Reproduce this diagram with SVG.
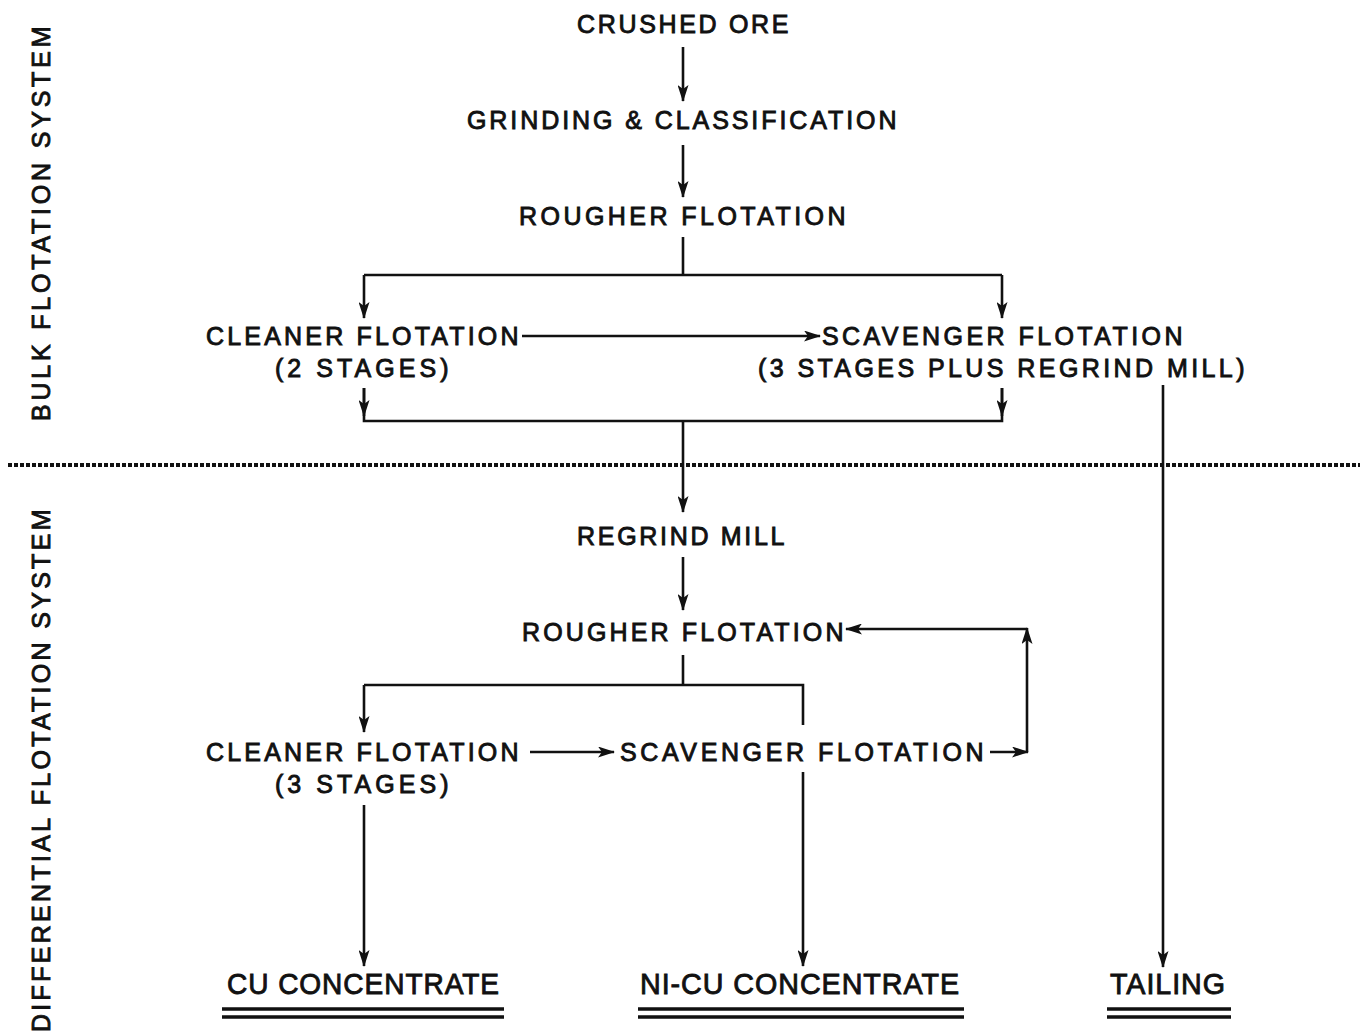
<svg xmlns="http://www.w3.org/2000/svg" width="1366" height="1036" viewBox="0 0 1366 1036">
<style>
text{font-family:"Liberation Sans",Arial,sans-serif;font-size:25px;fill:#111;stroke:#111;stroke-width:0.9;letter-spacing:1.5px}
.c{text-anchor:middle}
.big{font-size:30px;letter-spacing:1px}
.ln{fill:none;stroke:#111;stroke-width:2.6}
.ul{fill:none;stroke:#111;stroke-width:3.4}
</style>
<defs>
<marker id="ah" viewBox="0 0 17 11" refX="16" refY="5.5" markerWidth="17" markerHeight="11" markerUnits="userSpaceOnUse" orient="auto">
<path d="M0,0 L17,5.5 L0,11 L4,5.5 z" fill="#111"/>
</marker>
</defs>
<rect width="1366" height="1036" fill="#fff"/>

<g id="label-bulk"><text class="c" transform="translate(50,223) rotate(-90)" textLength="396" lengthAdjust="spacing">BULK FLOTATION SYSTEM</text></g>
<g id="label-diff"><text class="c" transform="translate(50,770) rotate(-90)" textLength="524" lengthAdjust="spacing">DIFFERENTIAL FLOTATION SYSTEM</text></g>

<g id="divider"><line x1="8" y1="465" x2="1360" y2="465" stroke="#111" stroke-width="4" stroke-dasharray="4 2"/></g>

<g id="n-crushed"><text x="577" y="33" textLength="213" lengthAdjust="spacing">CRUSHED ORE</text></g>
<g id="n-grinding"><text x="467" y="129" textLength="431" lengthAdjust="spacing">GRINDING &amp; CLASSIFICATION</text></g>
<g id="n-rougher1"><text x="519" y="225" textLength="328" lengthAdjust="spacing">ROUGHER FLOTATION</text></g>
<g id="n-cleaner1"><text x="206" y="345" textLength="314" lengthAdjust="spacing">CLEANER FLOTATION</text><text x="275" y="377" textLength="175" lengthAdjust="spacing">(2 STAGES)</text></g>
<g id="n-scavenger1"><text x="822" y="345" textLength="362" lengthAdjust="spacing">SCAVENGER FLOTATION</text><text x="758" y="377" textLength="488" lengthAdjust="spacing">(3 STAGES PLUS REGRIND MILL)</text></g>
<g id="n-regrind"><text x="577" y="545" textLength="209" lengthAdjust="spacing">REGRIND MILL</text></g>
<g id="n-rougher2"><text x="522" y="641" textLength="323" lengthAdjust="spacing">ROUGHER FLOTATION</text></g>
<g id="n-cleaner2"><text x="206" y="761" textLength="314" lengthAdjust="spacing">CLEANER FLOTATION</text><text x="275" y="793" textLength="175" lengthAdjust="spacing">(3 STAGES)</text></g>
<g id="n-scavenger2"><text x="620" y="761" textLength="365" lengthAdjust="spacing">SCAVENGER FLOTATION</text></g>
<g id="n-cu"><text class="big" x="227" y="994" textLength="273" lengthAdjust="spacingAndGlyphs">CU CONCENTRATE</text><path class="ul" d="M222,1009 H504 M222,1017 H504"/></g>
<g id="n-nicu"><text class="big" x="640" y="994" textLength="320" lengthAdjust="spacingAndGlyphs">NI-CU CONCENTRATE</text><path class="ul" d="M638,1009 H964 M638,1017 H964"/></g>
<g id="n-tailing"><text class="big" x="1110" y="994" textLength="116" lengthAdjust="spacingAndGlyphs">TAILING</text><path class="ul" d="M1107,1009 H1231 M1107,1017 H1231"/></g>

<g id="connectors">
<path class="ln" d="M683,47 V101" marker-end="url(#ah)"/>
<path class="ln" d="M683,145 V197" marker-end="url(#ah)"/>
<path class="ln" d="M683,237 V275 M364,275 H1002"/>
<path class="ln" d="M364,275 V318" marker-end="url(#ah)"/>
<path class="ln" d="M1002,275 V318" marker-end="url(#ah)"/>
<path class="ln" d="M522,336 H820" marker-end="url(#ah)"/>
<path class="ln" d="M364,388 V421 H1002 V388"/>
<path class="ln" d="M364,388 V416" marker-end="url(#ah)"/>
<path class="ln" d="M1002,388 V416" marker-end="url(#ah)"/>
<path class="ln" d="M683,421 V512" marker-end="url(#ah)"/>
<path class="ln" d="M1163,385 V967" marker-end="url(#ah)"/>
<path class="ln" d="M683,557 V610" marker-end="url(#ah)"/>
<path class="ln" d="M683,655 V685 M364,685 H803 V725"/>
<path class="ln" d="M364,685 V732" marker-end="url(#ah)"/>
<path class="ln" d="M530,752 H614" marker-end="url(#ah)"/>
<path class="ln" d="M990,752 H1028" marker-end="url(#ah)"/>
<path class="ln" d="M1027,752 V628" marker-end="url(#ah)"/>
<path class="ln" d="M1027,629 H846" marker-end="url(#ah)"/>
<path class="ln" d="M364,805 V966" marker-end="url(#ah)"/>
<path class="ln" d="M803,772 V966" marker-end="url(#ah)"/>
</g>
</svg>
